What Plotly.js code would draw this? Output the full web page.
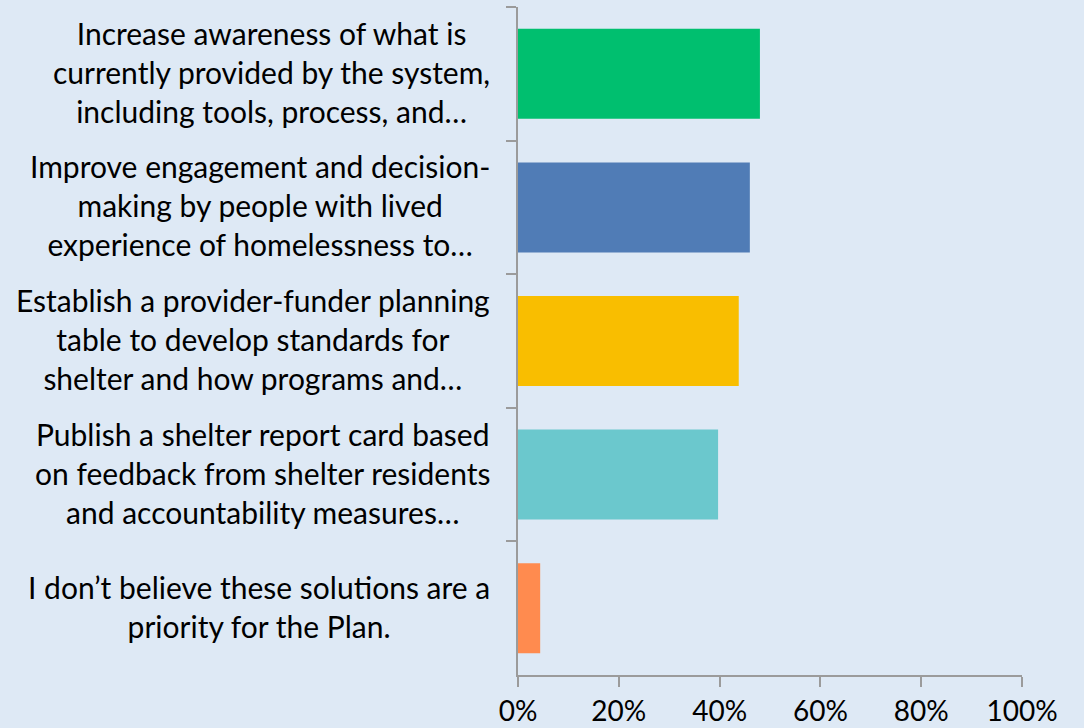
<!DOCTYPE html>
<html>
<head>
<meta charset="utf-8">
<script src="https://cdn.plot.ly/plotly-3.0.1.min.js"></script>
<style>
  html, body { margin: 0; padding: 0; background: #DEE9F5; }
  #chart { width: 1084px; height: 728px; }
</style>
</head>
<body>
<div id="chart"></div>
<script>
// Data
var categories = [
  "Increase awareness of what is<br>currently provided by the system,<br>including tools, process, and…",
  "Improve engagement and decision-<br>making by people with lived<br>experience of homelessness to…",
  "Establish a provider-funder planning<br>table to develop standards for<br>shelter and how programs and…",
  "Publish a shelter report card based<br>on feedback from shelter residents<br>and accountability measures…",
  "I don’t believe these solutions are a<br>priority for the Plan."
];
var values = [0.480, 0.460, 0.438, 0.397, 0.044];
var barColors = ["#00BF6F", "#507CB6", "#F9BE00", "#6BC8CD", "#FF8B4F"];
var tickValues = [0, 0.2, 0.4, 0.6, 0.8, 1.0];
var tickLabels = ["0%", "20%", "40%", "60%", "80%", "100%"];

var FONT = "Lato, 'Open Sans', sans-serif";

var trace = {
  type: "bar",
  orientation: "h",
  x: values,
  y: categories,
  marker: { color: barColors, line: { width: 0 } },
  hoverinfo: "x+y",
  showlegend: false
};

var annotations = categories.map(function (c) {
  return {
    xref: "paper",
    x: 0,
    xanchor: "right",
    xshift: -26,
    yref: "y",
    y: c,
    yanchor: "middle",
    yshift: 2,
    text: c,
    showarrow: false,
    align: "center",
    font: { family: FONT, size: 30, color: "#000000" }
  };
});

var layout = {
  width: 1084,
  height: 728,
  paper_bgcolor: "#DEE9F5",
  plot_bgcolor: "#DEE9F5",
  margin: { l: 518, r: 62, t: 7, b: 53, pad: 0 },
  bargap: 0.326,
  font: { family: FONT, size: 28, color: "#000000" },
  xaxis: {
    range: [0, 1],
    tickvals: tickValues,
    ticktext: tickLabels,
    showgrid: false,
    zeroline: false,
    showline: true,
    linecolor: "#9B9B9B",
    linewidth: 2,
    ticks: "outside",
    ticklen: 10,
    tickwidth: 2,
    tickcolor: "#9B9B9B",
    tickfont: { family: FONT, size: 28, color: "#000000" },
    fixedrange: true
  },
  yaxis: {
    type: "category",
    autorange: "reversed",
    tickson: "boundaries",
    ticks: "outside",
    ticklen: 10,
    tickwidth: 2,
    tickcolor: "#9B9B9B",
    showticklabels: false,
    showgrid: false,
    zeroline: false,
    showline: true,
    linecolor: "#9B9B9B",
    linewidth: 2,
    fixedrange: true
  },
  annotations: annotations
};

Plotly.newPlot("chart", [trace], layout, { displayModeBar: false, staticPlot: true });
</script>
</body>
</html>
